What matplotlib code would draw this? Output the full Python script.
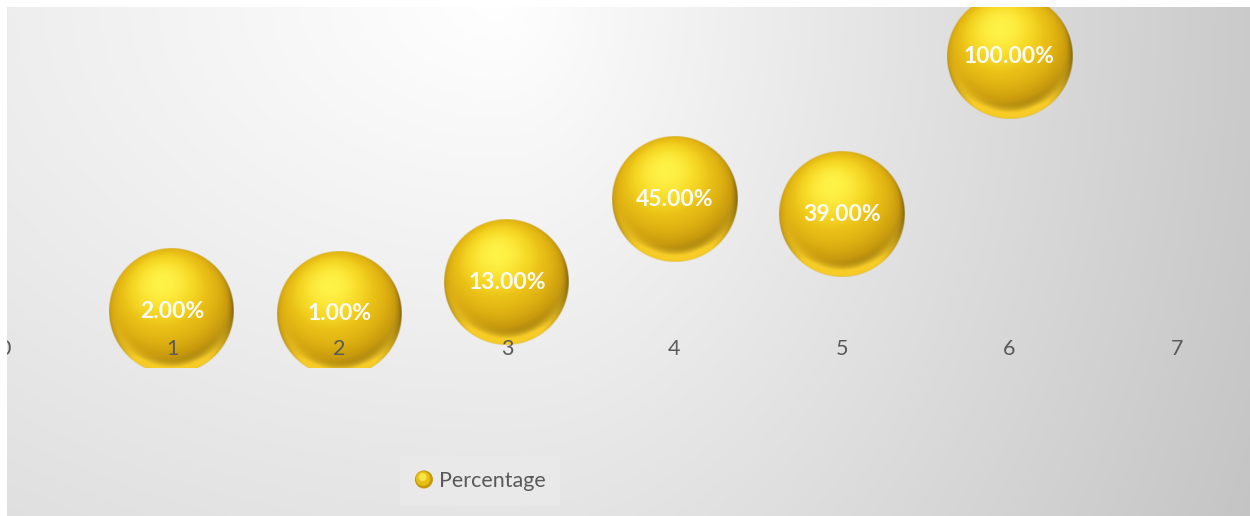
import numpy as np
import matplotlib
matplotlib.use('Agg')
import matplotlib.pyplot as plt
from matplotlib.patches import Rectangle, Circle
from matplotlib.legend_handler import HandlerBase
from matplotlib.lines import Line2D

# ---------------- data ----------------
x_values = [1, 2, 3, 4, 5, 6]
percentages = [2, 1, 13, 45, 39, 100]
data_labels = ['2.00%', '1.00%', '13.00%', '45.00%', '39.00%', '100.00%']
x_ticks = [0, 1, 2, 3, 4, 5, 6, 7]
series_name = 'Percentage'

W, H = 1250, 516
fig = plt.figure(figsize=(W / 100, H / 100), dpi=100)
fig.patch.set_facecolor('white')

FONT = 'Lato'
TXT = '#595959'

# ---------------- chart-area gradient background ----------------
bg = fig.add_axes([0, 0, 1, 1], zorder=-5)
bg.set_axis_off()
px = np.arange(W)
py = np.arange(H)
PX, PY = np.meshgrid(px, py)
dx = PX - 500.0
dx = np.where(dx < 0, dx * 0.5, dx)
dist = np.sqrt(dx ** 2 + (0.73 * PY) ** 2)
val = np.clip(255 - 0.07 * dist, 0, 255) / 255.0
img = np.dstack([val, val, val])
bg.imshow(img, extent=[0, W, H, 0], aspect='auto', interpolation='bilinear')
bg.set_xlim(0, W)
bg.set_ylim(H, 0)

# ---------------- main axes ----------------
left_px, right_px, top_px, bottom_px = 4.5, 1244.0, 7.0, 368.0
ax = fig.add_axes([left_px / W, 1 - bottom_px / H,
                   (right_px - left_px) / W, (bottom_px - top_px) / H])
ax.set_facecolor('none')
XMAX = (right_px - left_px) / 167.5
Y0_PX = 316.6
PX_PER_PCT = 2.606
YMIN = -(bottom_px - Y0_PX) / PX_PER_PCT
YMAX = (Y0_PX - top_px) / PX_PER_PCT
ax.set_xlim(0, XMAX)
ax.set_ylim(YMIN, YMAX)
for s in ['left', 'right', 'top']:
    ax.spines[s].set_visible(False)
ax.spines['bottom'].set_position(('data', 0))
ax.spines['bottom'].set_color('none')
ax.set_yticks([])
ax.set_xticks(x_ticks)
ax.set_xticklabels([str(t) for t in x_ticks], fontsize=15.5, family=FONT, color=TXT)
ax.tick_params(axis='x', length=0, pad=16)
ax.xaxis.set_zorder(4)


def sphere_rgba(n=256, r_px=62.0):
    u = np.linspace(-1, 1, n)
    X, Y = np.meshgrid(u, u)  # Y grows downward (origin upper)
    D = np.sqrt(X ** 2 + Y ** 2)
    Z = np.sqrt(np.clip(1 - D ** 2, 0, 1))
    L = np.array([-0.15, -0.45, 0.88])
    L = L / np.linalg.norm(L)
    ndl = X * L[0] + Y * L[1] + Z * L[2]
    t = np.clip(ndl, 0, 1)
    pos = [0.0, 0.3, 0.55, 0.75, 0.9, 1.0]
    cols = np.array([
        (0.50, 0.38, 0.04),
        (0.78, 0.60, 0.05),
        (0.87, 0.69, 0.07),
        (0.92, 0.76, 0.09),
        (0.97, 0.86, 0.16),
        (1.00, 0.95, 0.28),
    ])
    rgb = np.zeros(X.shape + (3,))
    for c in range(3):
        rgb[..., c] = np.interp(t, pos, cols[:, c])
    refl = np.clip(Y + 0.2, 0, 1) ** 1.5 * np.exp(-((D - 0.94) / 0.12) ** 2)
    refl = np.clip(refl * 1.1, 0, 1)
    rim = np.array([0.97, 0.80, 0.15])
    rgb = rgb * (1 - refl[..., None]) + rim * refl[..., None]
    alpha = np.clip((1 - D) * r_px + 0.5, 0, 1)
    return np.dstack([rgb, alpha])


R_PX = 62.5
tex = sphere_rgba(r_px=R_PX)
o = ax.transData.transform((0, 0))
sx = ax.transData.transform((1, 0))[0] - o[0]
sy = ax.transData.transform((0, 1))[1] - o[1]
for xv, yv, lab in zip(x_values, percentages, data_labels):
    ax.imshow(tex, extent=[xv - R_PX / sx, xv + R_PX / sx,
                           yv - R_PX / sy, yv + R_PX / sy],
              aspect='auto', interpolation='bilinear', zorder=2, origin='upper')
    ax.text(xv, yv, lab, ha='center', va='center', color='#fbfbf5',
            fontsize=16.5, fontweight='bold', family=FONT, zorder=5)
ax.set_xlim(0, XMAX)
ax.set_ylim(YMIN, YMAX)


# ---------------- legend ----------------
class SphereHandler(HandlerBase):
    def create_artists(self, legend, orig_handle, xdescent, ydescent,
                       width, height, fontsize, trans):
        cx = width / 2 - xdescent
        cy = height / 2 - ydescent
        r = 6.5
        arts = [Circle((cx, cy), r, facecolor='#c49a0a', edgecolor='none', transform=trans),
                Circle((cx - 0.6, cy + 0.6), r * 0.8, facecolor='#e6be16', edgecolor='none', transform=trans),
                Circle((cx - 0.9, cy + 1.7), r * 0.45, facecolor='#f8e444', edgecolor='none', transform=trans)]
        return arts


proxy = Line2D([], [])
leg = fig.legend([proxy], [series_name], handler_map={Line2D: SphereHandler()},
                 loc='center', bbox_to_anchor=(480 / W, 1 - 481 / H),
                 frameon=True, fancybox=False, facecolor='#e9e9e9', edgecolor='none',
                 framealpha=1, handlelength=0.9, handletextpad=0.25,
                 borderpad=0.68, borderaxespad=0, prop={'family': FONT, 'size': 15.5})
for t in leg.get_texts():
    t.set_color(TXT)

# white margins (top and left) of the screenshot
fig.add_artist(Rectangle((0, 0), 7 / W, 1, transform=fig.transFigure,
                         facecolor='white', edgecolor='none', zorder=50))
fig.add_artist(Rectangle((0, 1 - 7 / H), 1, 7 / H, transform=fig.transFigure,
                         facecolor='white', edgecolor='none', zorder=50))

fig.savefig('out.png', dpi=100)
